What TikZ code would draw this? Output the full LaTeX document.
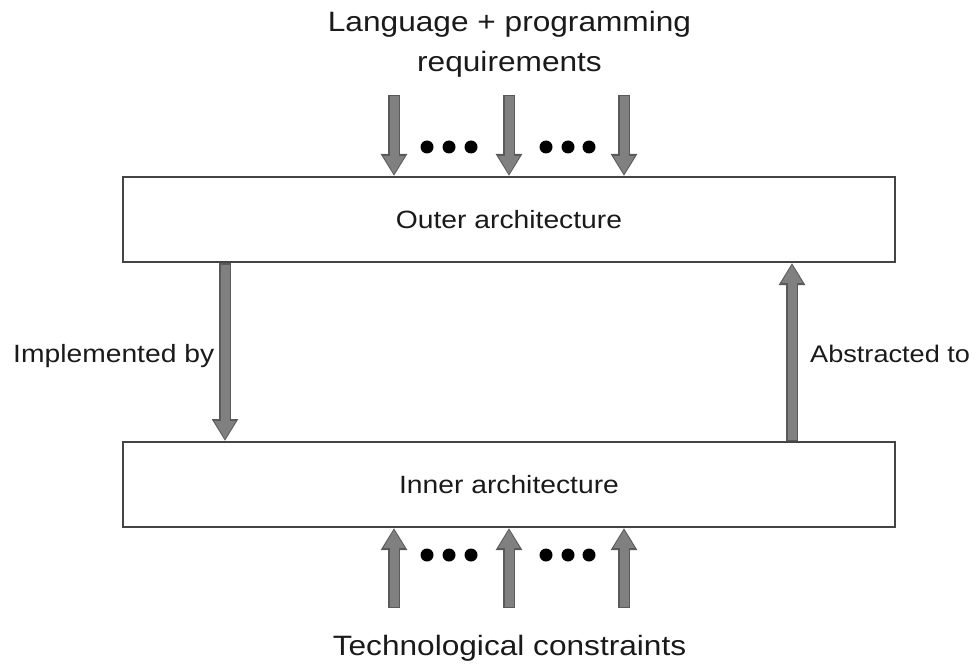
\documentclass[tikz,border=0pt]{standalone}
\usepackage{fontspec}
\setmainfont{Liberation Sans}
\newfontfamily\labelfont[FakeStretch=1.13]{Liberation Sans}
\usetikzlibrary{arrows.meta}
\definecolor{edgegray}{HTML}{444444}
\definecolor{arrowdark}{HTML}{5A5A5A}
\definecolor{arrowfill}{HTML}{808080}
\definecolor{inkblack}{HTML}{1A1A1A}
\tikzset{
  archbox/.style={draw=edgegray, line width=2pt, fill=white,
    minimum width=772pt, minimum height=85pt, inner sep=0pt,
    font=\labelfont\fontsize{25}{30}\selectfont, text=inkblack},
  caption/.style={inner sep=0pt, text=inkblack,
    font=\labelfont\fontsize{28}{40}\selectfont},
  sidelabel/.style={inner sep=0pt, text=inkblack,
    font=\labelfont\fontsize{25}{30}\selectfont},
  fatarrowedge/.style={draw=arrowdark, line width=12pt,
    -{Triangle[width=25pt,length=22pt]}},
  fatarrowcore/.style={draw=arrowfill, line width=9pt,
    shorten <=1.5pt, shorten >=1.8pt,
    -{Triangle[width=20pt,length=18pt]}},
  ellipsisdot/.style={fill=black, draw=none},
}
\newcommand{\fatarrow}[2]{%
  \draw[fatarrowedge] #1 -- #2;
  \draw[fatarrowcore] #1 -- #2;}
\begin{document}
\begin{tikzpicture}[x=1pt, y=-1pt]
  \useasboundingbox (0,0) rectangle (976,668);

  % the two layers
  \node[archbox] (outer) at (509,219.5) {Outer architecture};
  \node[archbox] (inner) at (509,484.5) {Inner architecture};

  % inputs and constraints (base anchor sits on the last line)
  \node[caption, align=center, anchor=base] (req) at (509.5,72)
    {Language + programming\\requirements};
  \node[caption, anchor=base] (tech) at (509.5,655) {Technological constraints};

  % free ends of the incoming arrows
  \coordinate (in1) at (394,95);
  \coordinate (in2) at (509,95);
  \coordinate (in3) at (624,95);
  \coordinate (up1) at (394,608);
  \coordinate (up2) at (509,608);
  \coordinate (up3) at (624,608);
  \coordinate (implx) at (225,0);
  \coordinate (absx) at (792,0);

  \fatarrow{(in1)}{(in1 |- outer.north)}
  \fatarrow{(in2)}{(in2 |- outer.north)}
  \fatarrow{(in3)}{(in3 |- outer.north)}
  \fatarrow{(up1)}{(up1 |- inner.south)}
  \fatarrow{(up2)}{(up2 |- inner.south)}
  \fatarrow{(up3)}{(up3 |- inner.south)}

  % refinement and abstraction between the layers
  \fatarrow{(outer.south -| implx)}{(inner.north -| implx)}
  \fatarrow{(inner.north -| absx)}{(outer.south -| absx)}

  \node[sidelabel, anchor=base west] (impl) at (13,362) {Implemented by};
  \node[sidelabel, anchor=base west, font=\labelfont\fontsize{24}{30}\selectfont]
    (abs) at (810,362) {Abstracted to};

  % ellipses between the parallel arrows
  \foreach \x in {427,449,471,546,568,589} {
    \fill[ellipsisdot] (\x,147) circle (6.5pt);
    \fill[ellipsisdot] (\x,555) circle (6.5pt);
  }
\end{tikzpicture}
\end{document}
